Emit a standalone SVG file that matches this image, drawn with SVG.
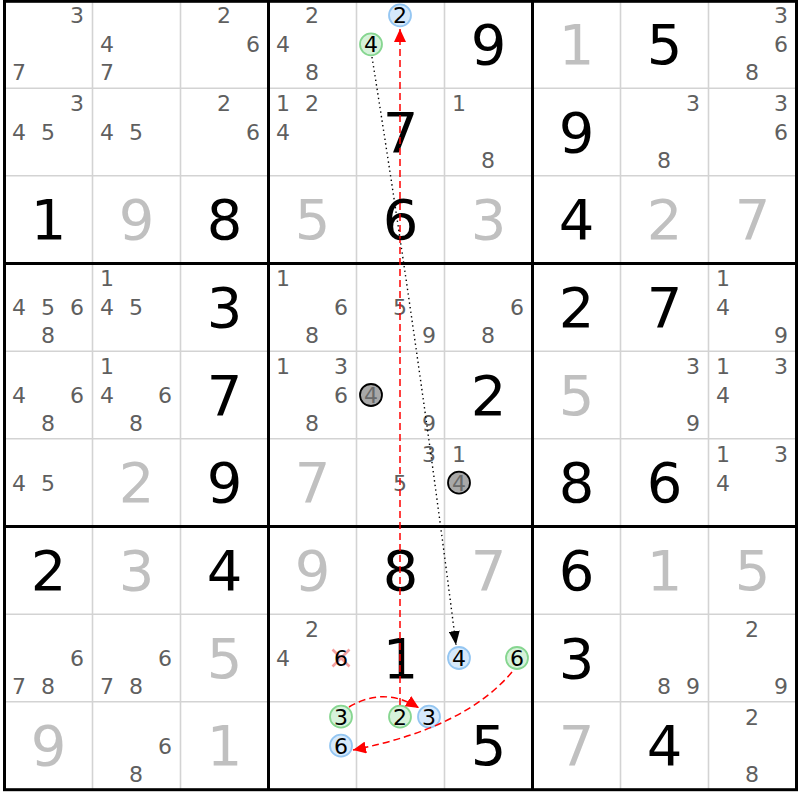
<svg xmlns="http://www.w3.org/2000/svg" width="800" height="800" viewBox="0 0 800 800">
<style>
text{font-family:"DejaVu Sans","Liberation Sans",sans-serif;text-anchor:middle}
.g{font-size:56px;fill:#000}
.s{font-size:56px;fill:#c0c0c0}
.c{font-size:22px;fill:#5f5f5f}
.k{font-size:22px;fill:#000}
.q{font-size:22px;fill:#6a6a6a}
.thin{stroke:#d3d3d3;stroke-width:1.6}
.thick{stroke:#000;stroke-width:3}
.bl{fill:#d6e9fb;stroke:#94c6f2;stroke-width:1.8}
.gr{fill:#d6f2da;stroke:#86d690;stroke-width:1.8}
.gy{fill:#a8a8a8;stroke:#000;stroke-width:1.8}
.red{fill:none;stroke:#ff0000;stroke-width:1.5;stroke-dasharray:7 4}
.dot{fill:none;stroke:#000;stroke-width:1.4;stroke-dasharray:1.4 3.2}
</style>
<defs>
<marker id="ar" markerUnits="userSpaceOnUse" markerWidth="14" markerHeight="12" refX="13" refY="6" orient="auto"><path d="M0,0 L13,6 L0,12 z" fill="#ff0000"/></marker>
<marker id="ak" markerUnits="userSpaceOnUse" markerWidth="15" markerHeight="11" refX="14" refY="5.5" orient="auto"><path d="M0,0 L14,5.5 L0,11 z" fill="#000"/></marker>
</defs>
<rect x="0" y="0" width="800" height="800" fill="#fff"/>
<g id="grid">
<path class="thin" d="M92.5 1V790M180.5 1V790M356.5 1V790M444.5 1V790M620.5 1V790M708.5 1V790M4.5 88.2H796.5M4.5 175.8H796.5M4.5 351.2H796.5M4.5 438.8H796.5M4.5 614.2H796.5M4.5 701.8H796.5"/>
<path class="thick" d="M268.5 1V790M532.5 1V790M4.5 263.5H796.5M4.5 526.5H796.5"/>
<rect x="4.5" y="1.3" width="792" height="788.4" fill="none" stroke="#000" stroke-width="3"/>
</g>
<g id="r1">
<g id="r1c1"><text class="c" x="77" y="23.3">3</text><text class="c" x="19" y="80.3">7</text></g>
<g id="r1c2"><text class="c" x="107" y="52.3">4</text><text class="c" x="107" y="80.3">7</text></g>
<g id="r1c3"><text class="c" x="224" y="23.3">2</text><text class="c" x="253" y="52.3">6</text></g>
<g id="r1c4"><text class="c" x="312" y="23.3">2</text><text class="c" x="283" y="52.3">4</text><text class="c" x="312" y="80.3">8</text></g>
<g id="r1c5"><circle class="bl" cx="400" cy="15.3" r="11"/><text class="k" x="400" y="23.3">2</text><circle class="gr" cx="371" cy="44.3" r="11"/><text class="k" x="371" y="52.3">4</text></g>
<g id="r1c6"><text class="g" x="488.5" y="63.8">9</text></g>
<g id="r1c7"><text class="s" x="576.5" y="63.8">1</text></g>
<g id="r1c8"><text class="g" x="664.5" y="63.8">5</text></g>
<g id="r1c9"><text class="c" x="781" y="23.3">3</text><text class="c" x="781" y="52.3">6</text><text class="c" x="752" y="80.3">8</text></g>
</g>
<g id="r2">
<g id="r2c1"><text class="c" x="77" y="111">3</text><text class="c" x="19" y="140">4</text><text class="c" x="48" y="140">5</text></g>
<g id="r2c2"><text class="c" x="107" y="140">4</text><text class="c" x="136" y="140">5</text></g>
<g id="r2c3"><text class="c" x="224" y="111">2</text><text class="c" x="253" y="140">6</text></g>
<g id="r2c4"><text class="c" x="283" y="111">1</text><text class="c" x="312" y="111">2</text><text class="c" x="283" y="140">4</text></g>
<g id="r2c5"><text class="g" x="400.5" y="151.5">7</text></g>
<g id="r2c6"><text class="c" x="459" y="111">1</text><text class="c" x="488" y="168">8</text></g>
<g id="r2c7"><text class="g" x="576.5" y="151.5">9</text></g>
<g id="r2c8"><text class="c" x="693" y="111">3</text><text class="c" x="664" y="168">8</text></g>
<g id="r2c9"><text class="c" x="781" y="111">3</text><text class="c" x="781" y="140">6</text></g>
</g>
<g id="r3">
<text class="g" x="48.5" y="239.2">1</text><text class="s" x="136.5" y="239.2">9</text><text class="g" x="224.5" y="239.2">8</text>
<text class="s" x="312.5" y="239.2">5</text><text class="g" x="400.5" y="239.2">6</text><text class="s" x="488.5" y="239.2">3</text>
<text class="g" x="576.5" y="239.2">4</text><text class="s" x="664.5" y="239.2">2</text><text class="s" x="752.5" y="239.2">7</text>
</g>
<g id="r4">
<g id="r4c1"><text class="c" x="19" y="315.3">4</text><text class="c" x="48" y="315.3">5</text><text class="c" x="77" y="315.3">6</text><text class="c" x="48" y="343.3">8</text></g>
<g id="r4c2"><text class="c" x="107" y="286.3">1</text><text class="c" x="107" y="315.3">4</text><text class="c" x="136" y="315.3">5</text></g>
<g id="r4c3"><text class="g" x="224.5" y="326.8">3</text></g>
<g id="r4c4"><text class="c" x="283" y="286.3">1</text><text class="c" x="341" y="315.3">6</text><text class="c" x="312" y="343.3">8</text></g>
<g id="r4c5"><text class="c" x="400" y="315.3">5</text><text class="c" x="429" y="343.3">9</text></g>
<g id="r4c6"><text class="c" x="517" y="315.3">6</text><text class="c" x="488" y="343.3">8</text></g>
<g id="r4c7"><text class="g" x="576.5" y="326.8">2</text></g>
<g id="r4c8"><text class="g" x="664.5" y="326.8">7</text></g>
<g id="r4c9"><text class="c" x="723" y="286.3">1</text><text class="c" x="723" y="315.3">4</text><text class="c" x="781" y="343.3">9</text></g>
</g>
<g id="r5">
<g id="r5c1"><text class="c" x="19" y="403">4</text><text class="c" x="77" y="403">6</text><text class="c" x="48" y="431">8</text></g>
<g id="r5c2"><text class="c" x="107" y="374">1</text><text class="c" x="107" y="403">4</text><text class="c" x="165" y="403">6</text><text class="c" x="136" y="431">8</text></g>
<g id="r5c3"><text class="g" x="224.5" y="414.5">7</text></g>
<g id="r5c4"><text class="c" x="283" y="374">1</text><text class="c" x="341" y="374">3</text><text class="c" x="341" y="403">6</text><text class="c" x="312" y="431">8</text></g>
<g id="r5c5"><circle class="gy" cx="371" cy="395" r="11"/><text class="q" x="371" y="403">4</text><text class="c" x="429" y="431">9</text></g>
<g id="r5c6"><text class="g" x="488.5" y="414.5">2</text></g>
<g id="r5c7"><text class="s" x="576.5" y="414.5">5</text></g>
<g id="r5c8"><text class="c" x="693" y="374">3</text><text class="c" x="693" y="431">9</text></g>
<g id="r5c9"><text class="c" x="723" y="374">1</text><text class="c" x="781" y="374">3</text><text class="c" x="723" y="403">4</text></g>
</g>
<g id="r6">
<g id="r6c1"><text class="c" x="19" y="490.7">4</text><text class="c" x="48" y="490.7">5</text></g>
<g id="r6c2"><text class="s" x="136.5" y="502.2">2</text></g>
<g id="r6c3"><text class="g" x="224.5" y="502.2">9</text></g>
<g id="r6c4"><text class="s" x="312.5" y="502.2">7</text></g>
<g id="r6c5"><text class="c" x="429" y="461.7">3</text><text class="c" x="400" y="490.7">5</text></g>
<g id="r6c6"><text class="c" x="459" y="461.7">1</text><circle class="gy" cx="459" cy="482.7" r="11"/><text class="q" x="459" y="490.7">4</text></g>
<g id="r6c7"><text class="g" x="576.5" y="502.2">8</text></g>
<g id="r6c8"><text class="g" x="664.5" y="502.2">6</text></g>
<g id="r6c9"><text class="c" x="723" y="461.7">1</text><text class="c" x="781" y="461.7">3</text><text class="c" x="723" y="490.7">4</text></g>
</g>
<g id="r7">
<text class="g" x="48.5" y="589.8">2</text><text class="s" x="136.5" y="589.8">3</text><text class="g" x="224.5" y="589.8">4</text>
<text class="s" x="312.5" y="589.8">9</text><text class="g" x="400.5" y="589.8">8</text><text class="s" x="488.5" y="589.8">7</text>
<text class="g" x="576.5" y="589.8">6</text><text class="s" x="664.5" y="589.8">1</text><text class="s" x="752.5" y="589.8">5</text>
</g>
<g id="r8">
<g id="r8c1"><text class="c" x="77" y="666">6</text><text class="c" x="19" y="694">7</text><text class="c" x="48" y="694">8</text></g>
<g id="r8c2"><text class="c" x="165" y="666">6</text><text class="c" x="107" y="694">7</text><text class="c" x="136" y="694">8</text></g>
<g id="r8c3"><text class="s" x="224.5" y="677.5">5</text></g>
<g id="r8c4"><text class="c" x="312" y="637">2</text><text class="c" x="283" y="666">4</text><path d="M332.5 649.5L349.5 666.5M349.5 649.5L332.5 666.5" stroke="#f4a0a0" stroke-width="2.6"/><text class="k" x="341" y="666">6</text></g>
<g id="r8c5"><text class="g" x="400.5" y="677.5">1</text></g>
<g id="r8c6"><circle class="bl" cx="459" cy="658" r="11"/><text class="k" x="459" y="666">4</text><circle class="gr" cx="517" cy="658" r="11"/><text class="k" x="517" y="666">6</text></g>
<g id="r8c7"><text class="g" x="576.5" y="677.5">3</text></g>
<g id="r8c8"><text class="c" x="664" y="694">8</text><text class="c" x="693" y="694">9</text></g>
<g id="r8c9"><text class="c" x="752" y="637">2</text><text class="c" x="781" y="694">9</text></g>
</g>
<g id="r9">
<g id="r9c1"><text class="s" x="48.5" y="765.2">9</text></g>
<g id="r9c2"><text class="c" x="165" y="753.7">6</text><text class="c" x="136" y="781.7">8</text></g>
<g id="r9c3"><text class="s" x="224.5" y="765.2">1</text></g>
<g id="r9c4"><circle class="gr" cx="341" cy="716.7" r="11"/><text class="k" x="341" y="724.7">3</text><circle class="bl" cx="341" cy="745.7" r="11"/><text class="k" x="341" y="753.7">6</text></g>
<g id="r9c5"><circle class="gr" cx="400" cy="716.7" r="11"/><text class="k" x="400" y="724.7">2</text><circle class="bl" cx="429" cy="716.7" r="11"/><text class="k" x="429" y="724.7">3</text></g>
<g id="r9c6"><text class="g" x="488.5" y="765.2">5</text></g>
<g id="r9c7"><text class="s" x="576.5" y="765.2">7</text></g>
<g id="r9c8"><text class="g" x="664.5" y="765.2">4</text></g>
<g id="r9c9"><text class="c" x="752" y="724.7">2</text><text class="c" x="752" y="781.7">8</text></g>
</g>
<g id="connectors">
<path class="red" d="M400 705 L400 29" marker-end="url(#ar)"/>
<path class="red" d="M349 707 Q384 686 419 708" marker-end="url(#ar)"/>
<path class="red" d="M512 672 Q465 728 353 750" marker-end="url(#ar)"/>
<path class="dot" d="M372 57 Q418 345 456 645" marker-end="url(#ak)"/>
</g>
</svg>
